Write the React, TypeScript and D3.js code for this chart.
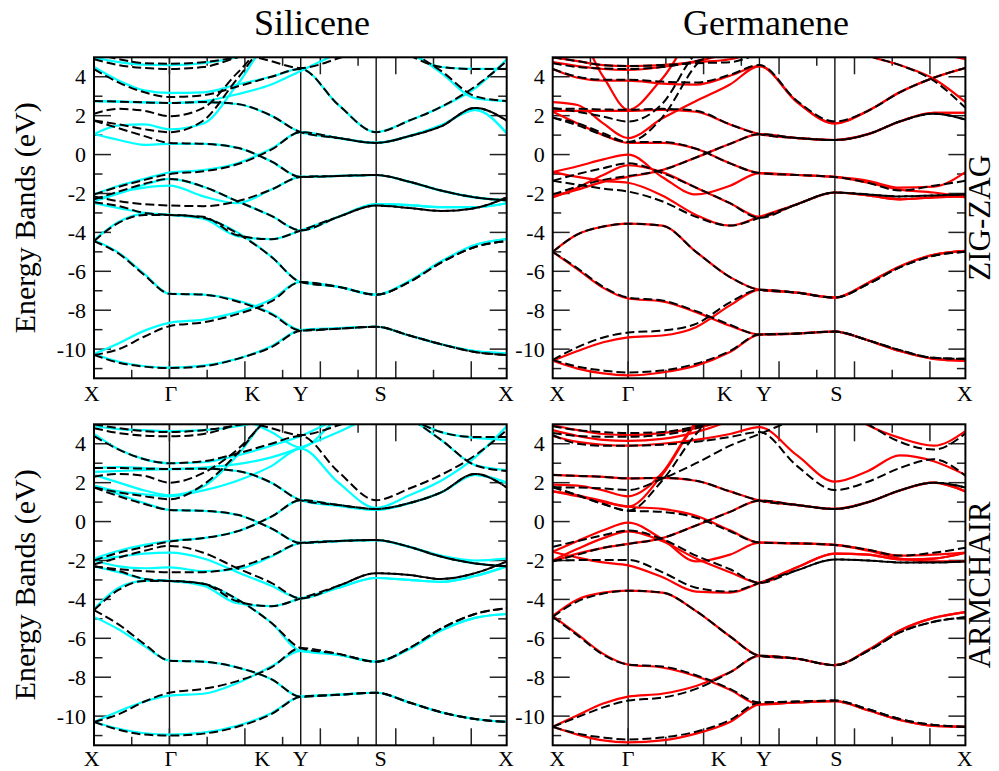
import * as d3 from "d3";

// k-path sample points: X, ., ., Γ, ., ., ., Y, ., S, ., ., ., X
const kGrid = [0, 0.33, 0.67, 1.0, 1.45, 1.9, 2.35, 2.74, 3.24, 3.74, 4.18, 4.6, 5.05, 5.47];
const symLines = [1.0, 2.74, 3.74];
const kLabels = ["X", "Γ", "K", "Y", "S", "X"];
const siZzLabelPos = [-0.03, 1.02, 2.1, 2.74, 3.8, 5.46];
const siAcLabelPos = [-0.03, 1.02, 2.23, 2.74, 3.8, 5.46];
const geZzLabelPos = [0.06, 1.0, 2.28, 2.8, 3.76, 5.46];
const geAcLabelPos = [0.06, 1.0, 2.2, 2.8, 3.76, 5.46];
const yTickLabels = [-10, -8, -6, -4, -2, 0, 2, 4];
const titles = ["Silicene", "Germanene"];
const sideLabels = ["ZIG-ZAG", "ARMCHAIR"];

// Silicene, zig-zag
const siZzSolid = [
  [-10.25, -10.65, -10.88, -10.95, -10.85, -10.5, -9.85, -9.02, -8.93, -8.85, -9.3, -9.75, -10.1, -10.22],
  [-10.25, -9.7, -9.05, -8.65, -8.48, -8.1, -7.45, -6.55, -6.8, -7.2, -6.5, -5.5, -4.65, -4.35],
  [-4.4, -5.05, -6.15, -7.15, -7.2, -7.5, -8.15, -9.02, -8.93, -8.85, -9.3, -9.75, -10.1, -10.22],
  [-4.4, -3.45, -3.05, -3.1, -3.25, -4.0, -5.25, -6.55, -6.8, -7.2, -6.5, -5.5, -4.65, -4.35],
  [-2.5, -2.75, -3.0, -3.1, -3.3, -4.2, -4.35, -3.9, -3.2, -2.55, -2.6, -2.7, -2.7, -2.5],
  [-2.4, -2.0, -1.55, -1.25, -1.65, -2.4, -3.15, -3.9, -3.2, -2.55, -2.6, -2.7, -2.7, -2.5],
  [-2.05, -1.6, -1.25, -0.92, -0.8, -0.45, 0.3, 1.15, 0.85, 0.6, 0.95, 1.5, 2.3, 1.1],
  [-2.35, -1.95, -1.7, -1.6, -2.15, -2.5, -1.8, -1.15, -1.1, -1.05, -1.4, -1.85, -2.2, -2.35],
  [1.05, 0.75, 0.5, 0.55, 0.55, 0.35, -0.35, -1.15, -1.1, -1.05, -1.4, -1.85, -2.2, -2.35],
  [1.05, 1.5, 1.55, 1.3, 1.6, 3.6, 5.8, 6, 6, 6, 6, 6, 6, 6],
  [2.75, 2.72, 2.68, 2.65, 2.7, 2.6, 2.0, 1.15, 0.85, 0.6, 0.95, 1.5, 2.3, 1.1],
  [4.5, 3.8, 3.3, 3.17, 3.2, 3.6, 4.0, 4.4, 2.55, 1.15, 1.75, 2.45, 3.4, 4.9],
  [2.75, 2.72, 2.7, 2.65, 2.75, 3.1, 3.6, 4.3, 5.2, 5.9, 6, 6, 6, 6],
  [5.0, 4.75, 4.62, 4.6, 4.7, 5.0, 5.5, 6, 6, 6, 5.3, 4.2, 2.9, 2.75],
  [6, 6, 6, 6, 6, 6, 6, 6, 6, 6, 5.2, 4.5, 4.4, 4.4],
];
const siZzDash = [
  [-10.3, -10.7, -10.9, -10.97, -10.88, -10.5, -9.9, -9.05, -8.95, -8.85, -9.3, -9.75, -10.15, -10.3],
  [-10.3, -10.0, -9.35, -8.82, -8.62, -8.2, -7.55, -6.55, -6.8, -7.2, -6.55, -5.55, -4.75, -4.45],
  [-4.45, -5.1, -6.2, -7.15, -7.2, -7.55, -8.2, -9.05, -8.95, -8.85, -9.3, -9.75, -10.15, -10.3],
  [-4.45, -3.5, -3.1, -3.1, -3.25, -4.05, -5.25, -6.55, -6.8, -7.2, -6.55, -5.55, -4.75, -4.45],
  [-2.45, -2.65, -3.0, -3.1, -3.2, -4.15, -4.35, -3.9, -3.2, -2.62, -2.75, -2.9, -2.75, -2.2],
  [-2.3, -1.9, -1.5, -1.25, -1.65, -2.4, -3.15, -3.9, -3.2, -2.62, -2.75, -2.9, -2.75, -2.2],
  [-2.05, -1.65, -1.3, -1.0, -0.86, -0.5, 0.25, 1.15, 0.85, 0.6, 0.95, 1.45, 2.4, 1.75],
  [-2.15, -2.4, -2.55, -2.62, -2.65, -2.4, -1.8, -1.15, -1.1, -1.05, -1.4, -1.85, -2.2, -2.35],
  [1.75, 1.35, 0.95, 0.6, 0.55, 0.35, -0.35, -1.15, -1.1, -1.05, -1.4, -1.85, -2.2, -2.35],
  [1.75, 1.55, 1.3, 1.15, 1.75, 3.9, 5.8, 6, 6, 6, 6, 6, 6, 6],
  [2.1, 2.35, 2.25, 1.97, 2.4, 4.2, 5.8, 6, 6, 6, 6, 6, 6, 6],
  [4.4, 3.7, 3.2, 2.96, 3.05, 3.5, 4.0, 4.4, 2.55, 1.15, 1.75, 2.45, 3.5, 4.8],
  [2.75, 2.72, 2.68, 2.65, 2.7, 2.6, 2.0, 1.15, 0.85, 0.6, 0.95, 1.45, 2.4, 1.75],
  [4.9, 4.6, 4.45, 4.4, 4.5, 5.0, 5.6, 6, 6, 6, 5.1, 4.5, 4.4, 4.4],
  [5.2, 4.9, 4.7, 4.67, 4.75, 5.0, 5.3, 5.6, 6, 6, 5.3, 4.3, 3.0, 2.75],
  [6, 6, 6, 6, 6, 5.3, 4.8, 4.45, 4.95, 5.6, 6, 6, 6, 6],
];

// Silicene, armchair
const siAcSolid = [
  [-10.3, -10.65, -10.88, -10.95, -10.85, -10.5, -9.85, -9.0, -8.9, -8.8, -9.3, -9.8, -10.15, -10.3],
  [-10.3, -9.75, -9.25, -8.95, -8.85, -8.3, -7.45, -6.65, -6.85, -7.2, -6.55, -5.6, -4.95, -4.75],
  [-4.9, -5.55, -6.4, -7.15, -7.2, -7.5, -8.1, -9.0, -8.9, -8.8, -9.3, -9.8, -10.15, -10.3],
  [-4.5, -3.4, -3.05, -3.05, -3.2, -4.0, -5.2, -6.65, -6.85, -7.2, -6.55, -5.6, -4.95, -4.75],
  [-2.3, -2.6, -2.95, -3.05, -3.3, -4.2, -4.35, -3.95, -3.4, -2.9, -3.0, -3.1, -2.8, -2.3],
  [-1.9, -1.8, -1.65, -1.6, -1.9, -2.6, -3.3, -3.95, -3.4, -2.9, -3.0, -3.1, -2.8, -2.3],
  [-1.9, -1.5, -1.2, -1.0, -0.85, -0.5, 0.25, 1.1, 0.85, 0.6, 0.95, 1.5, 2.4, 2.0],
  [-2.0, -2.3, -2.4, -2.35, -2.55, -2.45, -1.8, -1.1, -1.0, -0.95, -1.3, -1.75, -2.0, -1.9],
  [1.85, 1.4, 0.95, 0.6, 0.55, 0.35, -0.35, -1.1, -1.0, -0.95, -1.3, -1.8, -2.15, -2.3],
  [2.4, 2.0, 1.6, 1.35, 1.8, 3.4, 5.5, 6, 6, 6, 6, 6, 6, 6],
  [1.85, 1.55, 1.4, 1.3, 1.6, 2.1, 2.85, 3.75, 2.0, 0.7, 1.35, 2.1, 3.3, 4.9],
  [2.75, 2.8, 2.75, 2.7, 2.72, 2.6, 2.0, 1.1, 0.8, 0.6, 0.95, 1.5, 2.4, 2.0],
  [2.55, 2.6, 2.65, 2.7, 2.78, 2.95, 3.3, 3.8, 4.6, 5.5, 6, 6, 6, 6],
  [4.5, 3.7, 3.2, 3.0, 3.05, 3.4, 3.9, 4.4, 5.3, 6, 6, 6, 6, 6],
  [4.9, 4.75, 4.7, 4.65, 4.7, 4.9, 5.3, 6, 6, 6, 6, 6, 6, 6],
  [6, 6, 6, 6, 6, 5.4, 4.6, 3.8, 5.3, 6, 6, 6, 6, 6],
  [6, 6, 6, 6, 6, 6, 6, 6, 6, 6, 5.3, 4.2, 2.9, 2.65],
  [6, 6, 6, 6, 6, 6, 6, 6, 6, 6, 5.3, 4.6, 4.3, 4.2],
];
const siAcDash = [
  [-10.3, -10.7, -10.95, -11.0, -10.9, -10.55, -9.9, -9.0, -8.9, -8.8, -9.3, -9.8, -10.15, -10.3],
  [-10.3, -9.9, -9.25, -8.8, -8.6, -8.2, -7.5, -6.5, -6.8, -7.2, -6.5, -5.5, -4.75, -4.45],
  [-4.55, -5.3, -6.3, -7.15, -7.2, -7.5, -8.1, -9.0, -8.9, -8.8, -9.3, -9.8, -10.15, -10.3],
  [-4.55, -3.5, -3.05, -3.05, -3.2, -4.0, -5.2, -6.5, -6.8, -7.2, -6.5, -5.5, -4.75, -4.45],
  [-2.3, -2.55, -2.95, -3.05, -3.2, -4.1, -4.35, -3.95, -3.3, -2.65, -2.75, -2.95, -2.65, -2.05],
  [-2.2, -1.85, -1.5, -1.25, -1.6, -2.4, -3.15, -3.95, -3.3, -2.65, -2.75, -2.95, -2.65, -2.05],
  [-2.0, -1.6, -1.3, -1.03, -0.85, -0.5, 0.25, 1.1, 0.85, 0.65, 0.95, 1.5, 2.45, 1.75],
  [-2.3, -2.45, -2.55, -2.6, -2.6, -2.35, -1.75, -1.1, -1.0, -0.95, -1.3, -1.8, -2.15, -2.3],
  [1.75, 1.3, 0.9, 0.6, 0.55, 0.35, -0.35, -1.1, -1.0, -0.95, -1.3, -1.8, -2.15, -2.3],
  [1.75, 1.5, 1.3, 1.15, 1.9, 3.5, 5.5, 6, 6, 6, 6, 6, 6, 6],
  [2.3, 2.45, 2.35, 2.0, 2.5, 3.7, 5.4, 6, 6, 6, 6, 6, 6, 6],
  [4.4, 3.7, 3.2, 3.0, 3.1, 3.5, 4.0, 4.4, 2.55, 1.1, 1.7, 2.4, 3.4, 4.7],
  [2.75, 2.75, 2.72, 2.7, 2.72, 2.6, 2.0, 1.1, 0.85, 0.65, 0.95, 1.5, 2.45, 1.75],
  [4.8, 4.55, 4.42, 4.38, 4.5, 5.0, 5.6, 6, 6, 6, 5.3, 4.6, 4.35, 4.35],
  [5.0, 4.8, 4.65, 4.6, 4.7, 4.95, 5.3, 5.6, 6, 6, 5.3, 4.2, 2.9, 2.6],
  [6, 6, 6, 6, 6, 5.3, 4.8, 4.45, 4.95, 5.6, 6, 6, 6, 6],
];

// Germanene, zig-zag
const geZzSolid = [
  [-10.6, -11.0, -11.25, -11.35, -11.2, -10.85, -10.15, -9.25, -9.2, -9.1, -9.55, -10.1, -10.5, -10.6],
  [-10.6, -10.1, -9.65, -9.4, -9.3, -8.87, -7.75, -6.95, -7.1, -7.35, -6.6, -5.75, -5.15, -4.95],
  [-5.0, -5.9, -6.85, -7.4, -7.55, -8.1, -8.8, -9.25, -9.2, -9.1, -9.55, -10.1, -10.5, -10.6],
  [-5.0, -4.1, -3.7, -3.55, -3.65, -5.0, -6.3, -6.95, -7.1, -7.35, -6.6, -5.75, -5.15, -4.95],
  [-0.9, -1.15, -1.35, -1.45, -2.1, -3.1, -3.65, -3.2, -2.55, -1.95, -2.1, -2.3, -2.2, -2.15],
  [-2.2, -1.7, -1.05, -0.55, -0.9, -1.7, -2.5, -3.2, -2.55, -1.95, -2.1, -2.3, -2.2, -2.15],
  [-0.9, -0.6, -0.25, 0.0, -1.15, -2.05, -1.6, -0.95, -1.05, -1.15, -1.35, -1.7, -1.65, -0.9],
  [-2.15, -1.8, -1.4, -1.15, -0.8, -0.15, 0.55, 1.05, 0.85, 0.75, 1.05, 1.7, 2.15, 2.15],
  [2.2, 1.6, 1.0, 0.6, 0.6, 0.3, -0.45, -0.95, -1.05, -1.15, -1.45, -1.8, -1.95, -2.2],
  [2.25, 2.25, 2.25, 2.25, 2.3, 2.2, 1.55, 1.05, 0.85, 0.75, 1.05, 1.7, 2.15, 2.15],
  [2.7, 2.55, 1.6, 0.85, 1.85, 2.75, 3.6, 4.55, 2.7, 1.6, 2.25, 3.2, 3.95, 4.45],
  [4.4, 3.95, 3.8, 3.8, 3.65, 3.6, 4.05, 4.55, 2.7, 1.6, 2.25, 3.2, 3.95, 4.45],
  [6, 6, 4.0, 2.3, 3.9, 6, 6, 6, 6, 6, 6, 6, 6, 6],
  [4.75, 4.55, 4.4, 4.35, 4.5, 4.8, 5.2, 5.6, 6, 6, 5.1, 4.6, 3.9, 2.7],
  [5.0, 4.8, 4.6, 4.55, 4.6, 4.75, 4.9, 5.3, 6, 6, 6, 6, 5.3, 4.9],
];
const geZzDash = [
  [-10.55, -10.9, -11.1, -11.2, -11.1, -10.75, -10.1, -9.25, -9.2, -9.1, -9.55, -10.05, -10.45, -10.5],
  [-10.55, -9.9, -9.4, -9.15, -9.05, -8.7, -7.6, -6.95, -7.1, -7.35, -6.65, -5.8, -5.2, -5.0],
  [-5.0, -5.85, -6.8, -7.35, -7.5, -8.05, -8.75, -9.25, -9.2, -9.1, -9.55, -10.05, -10.45, -10.5],
  [-5.0, -4.1, -3.7, -3.55, -3.65, -5.0, -6.3, -6.95, -7.1, -7.35, -6.65, -5.8, -5.2, -5.0],
  [-1.35, -1.55, -1.75, -1.9, -2.4, -3.2, -3.65, -3.25, -2.55, -1.95, -2.05, -2.15, -2.1, -2.05],
  [-1.35, -1.0, -0.7, -0.45, -0.95, -1.7, -2.5, -3.25, -2.55, -1.95, -2.05, -2.15, -2.1, -2.05],
  [-2.05, -1.65, -1.3, -1.1, -0.8, -0.15, 0.55, 1.05, 0.85, 0.75, 1.05, 1.7, 2.1, 1.8],
  [1.9, 1.5, 1.0, 0.65, 0.65, 0.3, -0.45, -0.95, -1.05, -1.15, -1.45, -1.85, -1.6, -1.35],
  [2.35, 2.35, 2.32, 2.3, 2.35, 2.25, 1.55, 1.05, 0.85, 0.75, 1.05, 1.7, 2.1, 1.8],
  [2.4, 2.2, 1.95, 1.7, 2.6, 5.2, 6, 6, 6, 6, 6, 6, 6, 6],
  [1.9, 1.6, 1.1, 0.65, 1.9, 4.6, 6, 6, 6, 6, 6, 6, 6, 6],
  [4.4, 4.0, 3.85, 3.85, 3.75, 3.7, 4.1, 4.6, 2.75, 1.7, 2.25, 3.2, 3.95, 4.45],
  [4.7, 4.5, 4.42, 4.4, 4.5, 4.8, 5.3, 5.6, 6, 6, 5.1, 4.6, 3.8, 2.4],
  [5.0, 4.8, 4.6, 4.55, 4.6, 4.7, 4.75, 5.2, 6, 6, 6, 6, 6, 6],
];

// Germanene, armchair
const geAcSolid = [
  [-10.55, -10.95, -11.25, -11.35, -11.25, -10.9, -10.3, -9.4, -9.3, -9.23, -9.7, -10.2, -10.5, -10.55],
  [-10.55, -9.95, -9.35, -9.0, -8.85, -8.45, -7.75, -6.9, -7.05, -7.38, -6.6, -5.6, -4.95, -4.65],
  [-4.85, -5.8, -6.8, -7.35, -7.5, -7.95, -8.65, -9.4, -9.3, -9.23, -9.7, -10.2, -10.5, -10.55],
  [-4.85, -4.0, -3.65, -3.55, -3.65, -4.6, -5.9, -6.9, -7.05, -7.38, -6.6, -5.6, -4.95, -4.65],
  [-1.55, -1.85, -2.1, -2.25, -2.85, -3.6, -3.65, -3.15, -2.35, -1.65, -1.7, -1.95, -1.9, -1.6],
  [-2.0, -1.4, -0.85, -0.5, -1.0, -1.9, -2.6, -3.15, -2.35, -1.65, -1.7, -1.95, -1.9, -1.6],
  [-1.55, -1.0, -0.45, -0.05, -0.9, -2.05, -1.7, -1.08, -1.12, -1.2, -1.5, -1.9, -2.05, -2.05],
  [-2.05, -1.65, -1.35, -1.15, -0.85, -0.2, 0.5, 1.08, 0.85, 0.65, 1.0, 1.6, 2.0, 1.55],
  [1.55, 1.3, 1.0, 0.77, 0.65, 0.3, -0.45, -1.08, -1.12, -1.2, -1.45, -1.75, -1.7, -1.6],
  [1.55, 1.35, 1.05, 0.77, 2.4, 5.0, 6, 6, 6, 6, 6, 6, 6, 6],
  [1.9, 1.85, 1.6, 1.3, 2.5, 5.1, 6, 6, 6, 6, 6, 6, 6, 6],
  [2.4, 2.35, 2.3, 2.22, 2.25, 2.1, 1.55, 1.08, 0.85, 0.65, 1.0, 1.6, 2.0, 1.55],
  [4.4, 4.1, 3.95, 3.9, 4.0, 4.2, 4.5, 4.85, 3.4, 2.05, 2.6, 3.4, 3.1, 2.4],
  [4.7, 4.4, 4.2, 4.15, 4.25, 4.6, 5.2, 6, 6, 6, 4.95, 4.3, 3.9, 4.65],
  [4.95, 4.7, 4.5, 4.45, 4.55, 4.8, 5.3, 6, 6, 6, 6, 6, 6, 6],
];
const geAcDash = [
  [-10.55, -10.9, -11.1, -11.2, -11.1, -10.8, -10.2, -9.3, -9.25, -9.2, -9.65, -10.15, -10.45, -10.55],
  [-10.55, -10.05, -9.55, -9.2, -9.05, -8.6, -7.75, -6.9, -7.05, -7.38, -6.65, -5.7, -5.15, -4.92],
  [-4.9, -5.85, -6.85, -7.35, -7.45, -7.9, -8.6, -9.3, -9.25, -9.2, -9.65, -10.15, -10.45, -10.55],
  [-4.9, -4.1, -3.7, -3.55, -3.65, -4.6, -5.9, -6.9, -7.05, -7.38, -6.65, -5.7, -5.15, -4.92],
  [-2.0, -1.98, -1.97, -1.97, -2.6, -3.4, -3.6, -3.15, -2.5, -1.95, -2.0, -2.1, -2.1, -2.05],
  [-1.3, -1.0, -0.7, -0.46, -0.9, -1.75, -2.45, -3.15, -2.5, -1.95, -2.0, -2.1, -2.1, -2.05],
  [-2.05, -1.7, -1.35, -1.15, -0.85, -0.2, 0.5, 1.08, 0.85, 0.65, 1.0, 1.6, 2.0, 1.75],
  [1.8, 1.35, 0.9, 0.56, 0.5, 0.2, -0.5, -1.08, -1.12, -1.2, -1.45, -1.75, -1.6, -1.35],
  [1.76, 1.35, 0.9, 0.56, 2.1, 4.5, 6, 6, 6, 6, 6, 6, 6, 6],
  [1.76, 1.75, 1.7, 1.62, 2.2, 3.0, 3.9, 4.5, 5.3, 6, 6, 6, 6, 6],
  [2.4, 2.35, 2.3, 2.22, 2.25, 2.1, 1.55, 1.08, 0.85, 0.65, 1.0, 1.6, 2.0, 1.75],
  [4.45, 4.0, 3.9, 3.9, 3.95, 4.1, 4.35, 4.6, 2.85, 1.62, 2.05, 2.75, 3.2, 2.35],
  [4.55, 4.4, 4.36, 4.36, 4.45, 4.8, 5.4, 6, 6, 6, 5.0, 4.1, 3.7, 4.53],
  [4.9, 4.7, 4.6, 4.55, 4.6, 4.9, 5.4, 6, 6, 6, 6, 6, 6, 6],
];

const PW = 412.7;
const PH = 321;
const kMax = 5.47;
const serif = "Liberation Serif, Times New Roman, serif";

type PanelProps = {
  id: string;
  x0: number;
  y0: number;
  solid: number[][];
  dashed: number[][];
  color: string;
  labelPos: number[];
  labelDy: number;
};

const Panel = ({ id, x0, y0, solid, dashed, color, labelPos, labelDy }: PanelProps) => {
  const xs = d3.scaleLinear().domain([0, kMax]).range([0, PW]);
  const ys = d3.scaleLinear().domain([-11.5, 5]).range([PH, 0]);
  const line = d3
    .line<number>()
    .x((_, i) => xs(kGrid[i]))
    .y((d) => ys(d))
    .curve(d3.curveMonotoneX);

  const xMajor = d3.range(1, 6);
  const xMinor = d3.range(0.5, 5.2, 1);
  const yMajor = d3.range(-10, 5, 2);
  const yMinor = d3.range(-11, 5, 2);
  const tickStroke = "#222";

  return (
    <g transform={`translate(${x0},${y0})`}>
      <defs>
        <clipPath id={id}>
          <rect x={0} y={0} width={PW} height={PH} />
        </clipPath>
      </defs>

      {/* vertical lines at Γ, Y, S */}
      {symLines.map((k) => (
        <line key={k} x1={xs(k)} x2={xs(k)} y1={0} y2={PH} stroke="#111" strokeWidth={1.4} />
      ))}

      {/* ticks inside, all four sides */}
      {xMajor.map((k) => (
        <g key={"xM" + k} stroke={tickStroke} strokeWidth={1.5}>
          <line x1={xs(k)} x2={xs(k)} y1={PH} y2={PH - 17} />
          <line x1={xs(k)} x2={xs(k)} y1={0} y2={17} />
        </g>
      ))}
      {xMinor.map((k) => (
        <g key={"xm" + k} stroke={tickStroke} strokeWidth={1.5}>
          <line x1={xs(k)} x2={xs(k)} y1={PH} y2={PH - 8.5} />
          <line x1={xs(k)} x2={xs(k)} y1={0} y2={8.5} />
        </g>
      ))}
      {yMajor.map((v) => (
        <g key={"yM" + v} stroke={tickStroke} strokeWidth={1.5}>
          <line x1={0} x2={17} y1={ys(v)} y2={ys(v)} />
          <line x1={PW} x2={PW - 17} y1={ys(v)} y2={ys(v)} />
        </g>
      ))}
      {yMinor.map((v) => (
        <g key={"ym" + v} stroke={tickStroke} strokeWidth={1.5}>
          <line x1={0} x2={8.5} y1={ys(v)} y2={ys(v)} />
          <line x1={PW} x2={PW - 8.5} y1={ys(v)} y2={ys(v)} />
        </g>
      ))}

      <g clipPath={`url(#${id})`} fill="none">
        {solid.map((b, i) => (
          <path key={"s" + i} d={line(b) ?? ""} stroke={color} strokeWidth={2.2} />
        ))}
        {dashed.map((b, i) => (
          <path key={"d" + i} d={line(b) ?? ""} stroke="#000" strokeWidth={2} strokeDasharray="9,4" />
        ))}
      </g>

      <rect x={0} y={0} width={PW} height={PH} fill="none" stroke="#000" strokeWidth={2} />

      {yTickLabels.map((v) => (
        <text key={"yl" + v} x={-8} y={ys(v)} dy="0.35em" textAnchor="end" fontSize={22} style={{ fontFamily: serif }} fill="#000">
          {v}
        </text>
      ))}
      {kLabels.map((lab, i) => (
        <text key={"kl" + i} x={xs(labelPos[i])} y={PH + labelDy} textAnchor="middle" fontSize={22} style={{ fontFamily: serif }} fill="#000">
          {lab}
        </text>
      ))}
    </g>
  );
};

const App = () => {
  const left = 94;
  const right = 552.7;
  const top = 57.3;
  const bottom = 424.3;
  const txt = { fontFamily: serif };
  return (
    <svg width={999} height={771} style={{ position: "absolute", left: 0, top: 0, background: "#fff" }}>
      <rect width={999} height={771} fill="#fff" />
      <text x={312} y={35} textAnchor="middle" fontSize={36} style={txt}>{titles[0]}</text>
      <text x={766} y={35} textAnchor="middle" fontSize={36} style={txt}>{titles[1]}</text>

      <Panel id="c1" x0={left} y0={top} solid={siZzSolid} dashed={siZzDash} color="#00ffff" labelPos={siZzLabelPos} labelDy={23} />
      <Panel id="c2" x0={right} y0={top} solid={geZzSolid} dashed={geZzDash} color="#ff0000" labelPos={geZzLabelPos} labelDy={23} />
      <Panel id="c3" x0={left} y0={bottom} solid={siAcSolid} dashed={siAcDash} color="#00ffff" labelPos={siAcLabelPos} labelDy={21} />
      <Panel id="c4" x0={right} y0={bottom} solid={geAcSolid} dashed={geAcDash} color="#ff0000" labelPos={geAcLabelPos} labelDy={21} />

      <text transform={`translate(35,${top + PH / 2}) rotate(-90)`} textAnchor="middle" fontSize={30} style={txt}>
        Energy Bands (eV)
      </text>
      <text transform={`translate(35,${bottom + PH / 2}) rotate(-90)`} textAnchor="middle" fontSize={30} style={txt}>
        Energy Bands (eV)
      </text>
      <text transform={`translate(990,${top + PH / 2}) rotate(-90)`} textAnchor="middle" fontSize={31} style={txt}>
        {sideLabels[0]}
      </text>
      <text transform={`translate(990,${bottom + PH / 2}) rotate(-90)`} textAnchor="middle" fontSize={31} style={txt}>
        {sideLabels[1]}
      </text>
    </svg>
  );
};

export default App;
